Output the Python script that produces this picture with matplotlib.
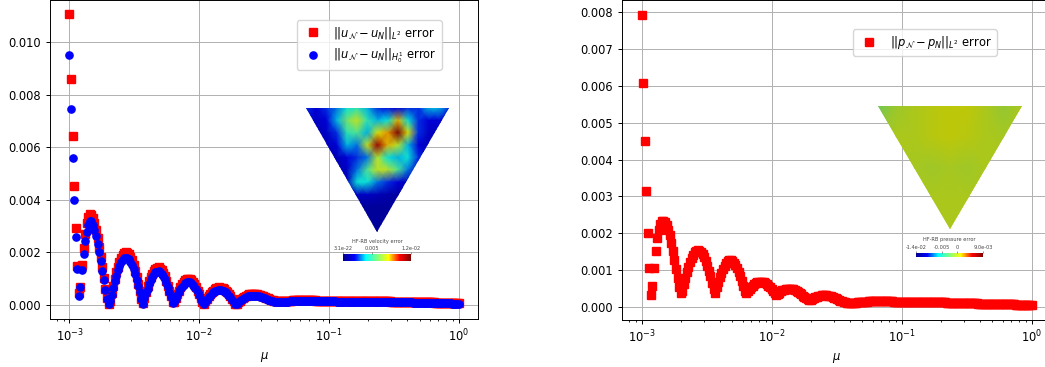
import numpy as np
import matplotlib.pyplot as plt
from matplotlib.colors import LinearSegmentedColormap, Normalize
from matplotlib.cm import ScalarMappable
from matplotlib.patches import Polygon

# parameter samples
mu = np.logspace(-3, 0, 250)

# errors, in units of 1e-3
err_u_l2 = np.array([
    11.07, 8.58, 6.42, 4.54, 2.93, 1.49, 0.44, 0.68, 1.50, 2.15, 2.70, 3.10, 3.35, 3.45, 3.42, 3.30, 3.10, 2.85,
    2.55, 2.20, 1.82, 1.42, 1.02, 0.62, 0.25, 0.03,
    0.15, 0.44, 0.72, 0.99, 1.23, 1.45, 1.64, 1.79, 1.90, 1.97, 2.00, 1.98, 1.93, 1.83, 1.69, 1.51, 1.30, 1.06,
    0.80, 0.53, 0.23,
    0.05, 0.27, 0.49, 0.70, 0.89, 1.05, 1.19, 1.30, 1.37, 1.41, 1.42, 1.38, 1.32, 1.21, 1.08, 0.92, 0.73, 0.53,
    0.32, 0.09,
    0.10, 0.25, 0.40, 0.54, 0.67, 0.78, 0.86, 0.93, 0.97, 0.98, 0.97, 0.93, 0.86, 0.78, 0.67, 0.54, 0.40, 0.25, 0.10,
    0.04, 0.14, 0.23, 0.32, 0.41, 0.48, 0.54, 0.59, 0.63, 0.65, 0.66, 0.65, 0.63, 0.59, 0.54, 0.48, 0.41, 0.32,
    0.23, 0.14, 0.04,
    0.04, 0.10, 0.16, 0.21, 0.26, 0.31, 0.35, 0.38, 0.40, 0.41, 0.42,
    0.42, 0.41, 0.40, 0.38, 0.36, 0.34, 0.32, 0.29, 0.26, 0.24, 0.21, 0.19, 0.17, 0.15, 0.14, 0.13, 0.13,
    0.13, 0.13, 0.14, 0.14, 0.15, 0.15, 0.16, 0.16, 0.17, 0.17, 0.18, 0.18, 0.18,
    0.18, 0.18, 0.18, 0.18, 0.17, 0.17, 0.17, 0.17, 0.17, 0.17, 0.16, 0.16, 0.16,
    0.16, 0.16, 0.16, 0.16, 0.16, 0.16, 0.16, 0.16, 0.16, 0.16, 0.15, 0.15, 0.15, 0.15, 0.15, 0.15, 0.15, 0.15,
    0.15, 0.15, 0.14, 0.14, 0.14, 0.14, 0.14, 0.14, 0.14, 0.14, 0.14, 0.14, 0.13, 0.13, 0.13, 0.13, 0.13, 0.13,
    0.13, 0.13, 0.13, 0.13,
    0.13, 0.13, 0.13, 0.13, 0.13, 0.12, 0.12, 0.12, 0.12, 0.12, 0.12, 0.12, 0.11, 0.11, 0.11, 0.11, 0.11, 0.11,
    0.11, 0.10, 0.10, 0.10, 0.10, 0.10, 0.10, 0.10, 0.09, 0.09, 0.09, 0.09, 0.09, 0.09, 0.09, 0.08, 0.08, 0.08,
    0.08, 0.08, 0.08, 0.07, 0.07, 0.07, 0.07, 0.07, 0.06, 0.06, 0.06, 0.06, 0.06,
]) * 1e-3

err_u_h1 = np.array([
    9.50, 7.44, 5.60, 3.98, 2.58, 1.38, 0.34, 0.66, 1.34, 1.92, 2.42, 2.78, 3.05, 3.20, 3.18, 3.05, 2.84, 2.60,
    2.32, 2.00, 1.66, 1.30, 0.93, 0.57, 0.23, 0.03,
    0.13, 0.39, 0.65, 0.89, 1.11, 1.31, 1.47, 1.61, 1.71, 1.77, 1.80, 1.79, 1.73, 1.64, 1.52, 1.36, 1.17, 0.96,
    0.72, 0.47, 0.21,
    0.04, 0.24, 0.44, 0.62, 0.79, 0.94, 1.06, 1.16, 1.23, 1.26, 1.27, 1.24, 1.18, 1.09, 0.97, 0.82, 0.66, 0.47,
    0.28, 0.08,
    0.09, 0.23, 0.36, 0.48, 0.59, 0.69, 0.77, 0.82, 0.86, 0.87, 0.86, 0.82, 0.77, 0.69, 0.59, 0.48, 0.36, 0.23, 0.09,
    0.03, 0.12, 0.20, 0.28, 0.35, 0.41, 0.47, 0.51, 0.54, 0.56, 0.57, 0.56, 0.54, 0.51, 0.47, 0.41, 0.35, 0.28,
    0.20, 0.12, 0.03,
    0.03, 0.08, 0.13, 0.18, 0.22, 0.26, 0.29, 0.32, 0.33, 0.34, 0.35,
    0.35, 0.34, 0.33, 0.32, 0.30, 0.28, 0.26, 0.24, 0.21, 0.19, 0.17, 0.15, 0.13, 0.12, 0.11, 0.10, 0.10,
    0.10, 0.10, 0.11, 0.11, 0.12, 0.12, 0.13, 0.13, 0.14, 0.14, 0.15, 0.15, 0.15,
    0.15, 0.15, 0.15, 0.15, 0.15, 0.14, 0.14, 0.14, 0.14, 0.14, 0.14, 0.13, 0.13,
    0.13, 0.13, 0.13, 0.13, 0.13, 0.13, 0.13, 0.13, 0.13, 0.13, 0.12, 0.12, 0.12, 0.12, 0.12, 0.12, 0.12, 0.12,
    0.12, 0.12, 0.12, 0.12, 0.12, 0.12, 0.12, 0.12, 0.12, 0.12, 0.12, 0.12, 0.11, 0.11, 0.11, 0.11, 0.11, 0.11,
    0.11, 0.11, 0.11, 0.11,
    0.11, 0.11, 0.11, 0.11, 0.11, 0.10, 0.10, 0.10, 0.10, 0.10, 0.10, 0.10, 0.09, 0.09, 0.09, 0.09, 0.09, 0.09,
    0.09, 0.08, 0.08, 0.08, 0.08, 0.08, 0.08, 0.08, 0.07, 0.07, 0.07, 0.07, 0.07, 0.07, 0.07, 0.06, 0.06, 0.06,
    0.06, 0.06, 0.06, 0.05, 0.05, 0.05, 0.05, 0.05, 0.04, 0.04, 0.04, 0.04, 0.04,
]) * 1e-3

err_p_l2 = np.array([
    7.93, 6.08, 4.51, 3.16, 2.02, 1.06, 0.32, 0.57, 1.06, 1.52, 1.86, 2.09, 2.25, 2.32,
    2.33, 2.30, 2.22, 2.10, 1.94, 1.74, 1.52, 1.28, 1.03, 0.78, 0.55, 0.37,
    0.44, 0.61, 0.78, 0.94, 1.08, 1.21, 1.32, 1.41, 1.48, 1.52, 1.54, 1.53, 1.50, 1.44, 1.35, 1.25, 1.12, 0.98,
    0.83, 0.66, 0.49,
    0.37,
    0.54, 0.68, 0.81, 0.93, 1.04, 1.12, 1.19, 1.24, 1.27, 1.27, 1.25, 1.20, 1.14, 1.06, 0.95, 0.84, 0.71, 0.57, 0.43,
    0.38, 0.44, 0.49, 0.54, 0.58, 0.62, 0.65, 0.67, 0.69, 0.69, 0.69, 0.67, 0.65, 0.62, 0.58, 0.54, 0.49, 0.44, 0.38,
    0.33,
    0.36, 0.39, 0.42, 0.45, 0.47, 0.49, 0.50, 0.50, 0.50, 0.49, 0.48, 0.46, 0.44, 0.41, 0.38, 0.34, 0.30, 0.26,
    0.23, 0.21, 0.19, 0.19,
    0.21, 0.24, 0.26, 0.28, 0.30, 0.31, 0.32, 0.32, 0.32, 0.32, 0.31, 0.30, 0.29, 0.27, 0.25, 0.23, 0.21, 0.19,
    0.17, 0.15, 0.13, 0.12, 0.11, 0.10, 0.10, 0.10,
    0.10, 0.11, 0.11, 0.12, 0.12, 0.13, 0.13, 0.14, 0.14, 0.14, 0.15, 0.15, 0.15, 0.15, 0.15, 0.15,
    0.15, 0.15, 0.15, 0.15, 0.15, 0.15, 0.15, 0.15, 0.15, 0.15, 0.14, 0.14, 0.14, 0.14, 0.14, 0.14, 0.14, 0.14,
    0.14, 0.14, 0.14, 0.14, 0.13, 0.13, 0.13, 0.13, 0.13, 0.13, 0.13, 0.13, 0.13, 0.13, 0.13, 0.13, 0.12, 0.12,
    0.12, 0.12, 0.12, 0.12, 0.12, 0.12, 0.12, 0.12, 0.11, 0.11, 0.11, 0.11, 0.11, 0.11, 0.11, 0.11, 0.11, 0.11,
    0.10, 0.10, 0.10, 0.10, 0.10, 0.10, 0.10, 0.10, 0.10, 0.10, 0.09, 0.09, 0.09, 0.09, 0.09, 0.09, 0.09, 0.09,
    0.09, 0.08, 0.08, 0.08, 0.08, 0.08, 0.08, 0.08, 0.08, 0.07, 0.07, 0.07, 0.07, 0.07, 0.07, 0.07, 0.06, 0.06,
    0.06, 0.06, 0.06, 0.06, 0.05, 0.05, 0.05, 0.05, 0.05,
]) * 1e-3

# HF-RB error snapshots: normalised colour values at the nodes of a grid over the triangle's box
# (rows run from the top edge down to the apex)
vel_field = np.array([
    [0.20, 0.15, 0.20, 0.25, 0.35, 0.40, 0.30, 0.20, 0.18, 0.15, 0.20, 0.20, 0.30, 0.30, 0.20],
    [0.12, 0.12, 0.15, 0.30, 0.50, 0.62, 0.40, 0.30, 0.35, 0.70, 0.35, 0.20, 0.15, 0.15, 0.12],
    [0.10, 0.10, 0.12, 0.20, 0.40, 0.45, 0.30, 0.65, 0.72, 0.98, 0.65, 0.20, 0.12, 0.10, 0.10],
    [0.10, 0.10, 0.10, 0.15, 0.30, 0.25, 0.62, 0.94, 0.70, 0.60, 0.30, 0.15, 0.10, 0.10, 0.10],
    [0.08, 0.08, 0.08, 0.10, 0.15, 0.20, 0.25, 0.60, 0.35, 0.30, 0.35, 0.20, 0.10, 0.08, 0.08],
    [0.08, 0.08, 0.08, 0.08, 0.12, 0.25, 0.45, 0.62, 0.60, 0.45, 0.25, 0.12, 0.08, 0.08, 0.08],
    [0.06, 0.06, 0.06, 0.06, 0.10, 0.35, 0.35, 0.25, 0.20, 0.15, 0.10, 0.06, 0.06, 0.06, 0.06],
    [0.05, 0.05, 0.05, 0.05, 0.06, 0.12, 0.12, 0.10, 0.08, 0.06, 0.05, 0.05, 0.05, 0.05, 0.05],
    [0.05, 0.05, 0.05, 0.05, 0.05, 0.05, 0.05, 0.05, 0.05, 0.05, 0.05, 0.05, 0.05, 0.05, 0.05],
    [0.05, 0.05, 0.05, 0.05, 0.05, 0.05, 0.05, 0.05, 0.05, 0.05, 0.05, 0.05, 0.05, 0.05, 0.05],
    [0.05, 0.05, 0.05, 0.05, 0.05, 0.05, 0.05, 0.05, 0.05, 0.05, 0.05, 0.05, 0.05, 0.05, 0.05],
])
pres_field = np.array([
    [0.52, 0.59, 0.62, 0.64, 0.65, 0.65, 0.62, 0.58, 0.62],
    [0.62, 0.62, 0.62, 0.64, 0.65, 0.64, 0.62, 0.61, 0.62],
    [0.62, 0.62, 0.61, 0.60, 0.61, 0.60, 0.62, 0.62, 0.62],
    [0.62, 0.62, 0.62, 0.62, 0.62, 0.62, 0.62, 0.62, 0.62],
    [0.62, 0.62, 0.62, 0.62, 0.62, 0.62, 0.62, 0.62, 0.62],
])
vel_ticks = [0.0, 0.005, 0.012]
vel_ticklabels = ['3.1e-22', '0.005', '1.2e-02']
pres_ticks = [-0.014, -0.005, 0.0, 0.009]
pres_ticklabels = ['-1.4e-02', '-0.005', '0', '9.0e-03']

plt.rcParams['font.size'] = 8.3
plt.rcParams['axes.linewidth'] = 0.7
plt.rcParams['xtick.major.width'] = 0.7
plt.rcParams['ytick.major.width'] = 0.7
plt.rcParams['xtick.major.size'] = 3
plt.rcParams['ytick.major.size'] = 3
plt.rcParams['xtick.minor.size'] = 1.7
plt.rcParams['grid.linewidth'] = 0.7

jet_colors = [(0, 0, 0.56), (0, 0, 1), (0, 1, 1), (0.5, 1, 0.5), (1, 1, 0), (1, 0, 0), (0.5, 0, 0)]
bar_cmap = LinearSegmentedColormap.from_list('pv_jet', jet_colors)


def shaded(factor):
    return LinearSegmentedColormap.from_list('pv_jet_%g' % factor,
                                             [tuple(factor * c for c in col) for col in jet_colors])


fig = plt.figure(figsize=(10.45, 3.67), dpi=100)
ax1 = fig.add_axes([0.04785, 0.13215, 0.40957, 0.86921])
ax2 = fig.add_axes([0.59522, 0.1292, 0.41053, 0.8697])

ax1.plot(mu, err_u_l2, 'rs', markersize=5.2, label=r'$||u_{\mathcal{N}} - u_N||_{L^2}$ error')
ax1.plot(mu, err_u_h1, 'bo', markersize=5.2, label=r'$||u_{\mathcal{N}} - u_N||_{H^1_0}$ error')
ax2.plot(mu, err_p_l2, 'rs', markersize=5.2, label=r'$||p_{\mathcal{N}} - p_N||_{L^2}$ error')

for ax in (ax1, ax2):
    ax.set_xscale('log')
    ax.grid(True)
    ax.set_xlabel(r'$\mu$')

ax1.legend(loc='upper right', bbox_to_anchor=(0.915, 0.935), borderaxespad=0)
ax2.legend(loc='upper right', bbox_to_anchor=(0.873, 0.909), borderaxespad=0)


def draw_field(rect, field, cmap):
    ax = fig.add_axes(rect)
    nv, nu = field.shape
    uu, vv = np.meshgrid(np.linspace(0, 1, nu), np.linspace(0, 1, nv))
    mesh = ax.pcolormesh(uu, vv, field, cmap=cmap, vmin=0, vmax=1, shading='gouraud')
    tri = Polygon([[0, 0], [1, 0], [0.5, 1]], closed=True, transform=ax.transData,
                  facecolor='none', edgecolor='none')
    ax.add_patch(tri)
    mesh.set_clip_path(tri)
    ax.set_xlim(0, 1)
    ax.set_ylim(1, 0)
    ax.axis('off')


def draw_bar(rect, vmin, vmax, ticks, labels, title, title_xy):
    cax = fig.add_axes(rect)
    cb = fig.colorbar(ScalarMappable(Normalize(vmin, vmax), bar_cmap), cax=cax, orientation='horizontal')
    cb.outline.set_visible(False)
    cax.xaxis.set_ticks_position('top')
    cb.set_ticks(ticks)
    cb.set_ticklabels(labels)
    cax.tick_params(axis='x', which='major', length=1.5, width=0.4, pad=0.5, labelsize=3.6,
                    colors='#444444')
    cax.tick_params(axis='x', which='minor', length=0)
    fig.text(title_xy[0], title_xy[1], title, fontsize=3.6, ha='center', va='center', color='#444444')


draw_field([0.29282, 0.36866, 0.13684, 0.33706], vel_field, shaded(0.88))
draw_bar([0.32852, 0.28965, 0.06478, 0.01826], 0.0, 0.012, vel_ticks, vel_ticklabels,
         'HF-RB velocity error', (0.3608, 0.3414))

draw_field([0.84048, 0.37520, 0.13722, 0.33678], pres_field, shaded(0.78))
draw_bar([0.87627, 0.29891, 0.06469, 0.01253], -0.014, 0.009, pres_ticks, pres_ticklabels,
         'HF-RB pressure error', (0.9081, 0.3480))

fig.savefig('out.png', dpi=100)
